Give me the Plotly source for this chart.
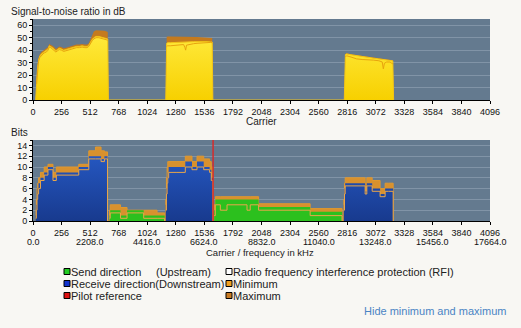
import plotly.graph_objects as go

# ---------------- data ----------------
carrier_ticks = list(range(0, 4097, 256))
freq_tick_carriers = list(range(0, 4097, 512))
freq_tick_labels = ["0.0", "2208.0", "4416.0", "6624.0", "8832.0",
                    "11040.0", "13248.0", "15456.0", "17664.0"]
snr_ticks = [0, 10, 20, 30, 40, 50, 60]
bits_ticks = [0, 2, 4, 6, 8, 10, 12, 14]

# SNR (dB) per carrier, three bands
snr_c1 = [24, 32, 40, 50, 60, 75, 90, 105, 120, 135, 145, 160, 175, 190, 205, 220, 235, 255, 275, 295,
          315, 340, 365, 390, 415, 440, 465, 485, 500, 515, 530, 545, 565, 590, 615, 640, 660, 670, 676]
snr_cur1 = [0, 14, 25, 32, 35, 37, 38, 39, 39.5, 41, 43.5, 43, 42, 41, 39.5, 40.5, 41.5, 41, 40, 40.5,
            41, 42, 42.5, 43, 43, 43.5, 43, 43, 44, 46.5, 48.5, 50, 51, 51, 50.5, 50, 49.5, 49, 0]
snr_max1 = [0, 15, 26.5, 33.5, 36.5, 38.5, 39.5, 40.5, 41, 42.5, 45, 44.5, 43.5, 42.5, 41, 42, 43, 42.5, 41.5, 42,
            42.5, 43.5, 44, 44.5, 44.5, 45, 44.5, 44.5, 45.5, 49, 53, 55, 56, 56, 56, 55.5, 55, 54.5, 0]
snr_min1 = [None, 13, 24, 31, 34, 36, 37, 38, 38.5, 40, 42.5, 42, 41, 40, 38.5, 39.5, 40.5, 40, 39, 39.5,
            40, 41, 41.5, 42, 42, 42.5, 42, 42, 43, 45.5, 47.5, 49, 50, 50, 49.5, 49, 48.5, 48, None]

snr_c2 = [1190, 1198, 1206, 1230, 1260, 1290, 1320, 1350, 1362, 1368, 1376, 1410, 1440, 1470, 1500, 1530,
          1560, 1590, 1606, 1612]
snr_cur2 = [0, 45.5, 46, 46, 46.2, 46.3, 46.5, 46.5, 46.4, 46.4, 46.5, 46.6, 46.8, 46.8, 47, 47,
            46.8, 46.6, 46.5, 0]
snr_max2 = [0, 50.5, 51, 51, 51, 51, 51, 51, 51, 51, 51, 50.8, 50.6, 50.5, 50.3, 50.2, 50, 50, 49.8, 0]
snr_min2 = [None, 43, 43.5, 43.5, 43.8, 44, 44.2, 44.5, 42, 40, 44, 44.8, 45.2, 45.5, 45.8, 46,
            46, 46.2, 46, None]

snr_c3 = [2790, 2800, 2810, 2850, 2900, 2950, 3000, 3050, 3100, 3130, 3140, 3150, 3170, 3200, 3215, 3225, 3232]
snr_cur3 = [0, 36.5, 37, 36.3, 35.5, 34.8, 34.2, 33.6, 33, 32.6, 32.5, 32.4, 32.2, 31.8, 31.6, 31.4, 0]
snr_max3 = [0, 37, 37.5, 36.8, 36, 35.3, 34.7, 34.1, 33.5, 33.1, 33, 32.9, 32.7, 32.3, 32.1, 31.9, 0]
snr_min3 = [None, 34.5, 35.5, 34.5, 33, 32.5, 32.5, 32, 31.5, 30.5, 25, 29.5, 30.5, 30.5, 29.5, 29, None]

# Bits per carrier: downstream (blue) and upstream (green) bands
down_c1 = [24, 30, 36, 42, 50, 67, 100, 134, 179, 209, 410, 500, 560, 610, 640, 668]
down_cur1 = [1, 3, 5, 6, 7, 8, 9, 10, 8, 9, 10, 12, 12, 11.5, 12, 0]
down_max1 = [2, 4, 6, 7, 8, 9, 10, 10.5, 9, 10, 10.5, 13, 13.7, 13, 12.8, 0]
down_min1 = [0.5, 2, 4, 5, 6, 7.5, 8.5, 9.5, 7.5, 8.5, 9.5, 11.5, 11.5, 11, 11.5, 0]

up_c1 = [686, 692, 784, 843, 992, 1112, 1180]
up_cur1 = [1, 2, 1, 2, 1, 1, 0]
up_max1 = [2, 3, 2.5, 2, 2, 1.5, 0]
up_min1 = [0.5, 1.5, 0.5, 1.5, 0.5, 0.5, 0]

down_c2 = [1190, 1196, 1202, 1208, 1216, 1290, 1365, 1425, 1470, 1530, 1583, 1598, 1612]
down_cur2 = [3, 6, 8, 9, 10, 10, 11, 10, 11, 10, 9.5, 8, 0]
down_max2 = [4, 8, 10, 11, 11, 11, 12, 11, 12, 11.5, 11, 10, 0]
down_min2 = [2, 5, 7, 8, 9, 9, 10, 9.5, 10, 9.5, 9, 7.5, 0]

up_c2 = [1624, 1634, 1679, 1739, 1918, 1947, 2022, 2484, 2770]
up_cur2 = [2, 4, 4, 4, 4, 4, 2.6, 1.7, 0]
up_max2 = [3, 4.5, 4.5, 4.5, 4.5, 4.5, 3.2, 2.3, 0]
up_min2 = [1, 3, 2, 3, 2, 3, 2, 1, 0]

down_c3 = [2786, 2792, 2798, 2977, 2992, 3040, 3111, 3156, 3186, 3228]
down_cur3 = [3, 6, 7, 5.5, 7, 6, 5, 6, 6, 0]
down_max3 = [4, 7, 8, 7, 8, 7.5, 6, 7, 7, 0]
down_min3 = [2, 5, 6.5, 5, 6.5, 5.5, 4.5, 5.5, 5.5, 0]

pilot_carrier = 1614

legend_col1 = [("Send direction", "#22cc22"), ("Receive direction(Downstream)", "#1133cc"),
               ("Pilot reference", "#dd1111")]
legend_col2 = [("Radio frequency interference protection (RFI)", "#ffffff"),
               ("Minimum", "#f0a020"), ("Maximum", "#c87a22")]


def join(*segs):
    """Concatenate segments with gaps (for plain lines)."""
    out = []
    for i, s in enumerate(segs):
        if i:
            out.append(None)
        out.extend(s)
    return out


def cat(*segs):
    """Concatenate segments directly (for filled areas, which drop to zero between bands)."""
    out = []
    for s in segs:
        out.extend(s)
    return out


# ---------------- layout helpers ----------------
W, H = 521, 328
ML, MR, MT, MB = 33, 31, 19, 107
PW, PH = W - ML - MR, H - MT - MB


def px(x):
    return (x - ML) / PW


def py(y):
    return (H - MB - y) / PH


FONT = "Liberation Sans, Arial, sans-serif"
PLOT_BG = "#647a8f"
GRID = "#8194a7"

fig = go.Figure()

# ---- top: SNR ----
snr_x = cat(snr_c1, snr_c2, snr_c3)
fig.add_trace(go.Scatter(x=snr_x, y=cat(snr_max1, snr_max2, snr_max3),
                         mode="lines", fill="tozeroy", line=dict(width=0, color="#c47a1e"),
                         fillcolor="#c47a1e", xaxis="x", yaxis="y", hoverinfo="skip"))
fig.add_trace(go.Scatter(x=snr_x, y=cat(snr_cur1, snr_cur2, snr_cur3),
                         mode="lines", fill="tozeroy", line=dict(width=1, color="#f2c418"),
                         fillgradient=dict(type="vertical",
                                           colorscale=[[0, "#f7d000"], [1, "#ffe93a"]]),
                         xaxis="x", yaxis="y", hoverinfo="skip"))
fig.add_trace(go.Scatter(x=join(snr_c1, snr_c2, snr_c3), y=join(snr_min1, snr_min2, snr_min3),
                         mode="lines", line=dict(width=1, color="#e8a30e"),
                         xaxis="x", yaxis="y", hoverinfo="skip"))

# ---- bottom: bits ----
fig.add_trace(go.Scatter(x=cat(down_c1, up_c1, down_c2, up_c2, down_c3),
                         y=cat(down_max1, up_max1, down_max2, up_max2, down_max3),
                         mode="lines", line_shape="hv", fill="tozeroy",
                         line=dict(width=1, color="#e0982e"), fillcolor="#d8912e",
                         xaxis="x2", yaxis="y2", hoverinfo="skip"))
fig.add_trace(go.Scatter(x=cat(down_c1, down_c2, down_c3), y=cat(down_cur1, down_cur2, down_cur3),
                         mode="lines", line_shape="hv", fill="tozeroy", line=dict(width=0, color="#1c46a8"),
                         fillgradient=dict(type="vertical",
                                           colorscale=[[0, "#183a8e"], [1, "#2557c0"]]),
                         xaxis="x2", yaxis="y2", hoverinfo="skip"))
fig.add_trace(go.Scatter(x=cat(up_c1, up_c2), y=cat(up_cur1, up_cur2),
                         mode="lines", line_shape="hv", fill="tozeroy", line=dict(width=0, color="#2cc01e"),
                         fillcolor="#2cc01e", xaxis="x2", yaxis="y2", hoverinfo="skip"))
fig.add_trace(go.Scatter(x=join(down_c1, up_c1, down_c2, up_c2, down_c3),
                         y=join(down_min1, up_min1, down_min2, up_min2, down_min3),
                         mode="lines", line_shape="hv", line=dict(width=1, color="#e9a64a"),
                         xaxis="x2", yaxis="y2", hoverinfo="skip"))
fig.add_trace(go.Scatter(x=[pilot_carrier, pilot_carrier], y=[0, 15], mode="lines",
                         line=dict(width=1.5, color="#d42c2c"), xaxis="x2", yaxis="y2", hoverinfo="skip"))

axis_common = dict(showline=True, linecolor="#000000", linewidth=1, ticks="outside",
                   tickcolor="#000000", ticklen=3, tickfont=dict(family=FONT, size=9, color="#111111"),
                   zeroline=False, fixedrange=True)

fig.update_layout(
    width=W, height=H, margin=dict(l=ML, r=MR, t=MT, b=MB),
    paper_bgcolor="#f8f7f3", plot_bgcolor=PLOT_BG, showlegend=False,
    font=dict(family=FONT, size=10, color="#222222"),
    xaxis=dict(domain=[0, 1], anchor="y", range=[0, 4096], tickvals=carrier_ticks,
               ticktext=[str(c) for c in carrier_ticks], showgrid=False, **axis_common),
    yaxis=dict(domain=[py(100), py(19)], anchor="x", range=[0, 65], tickvals=snr_ticks,
               showgrid=True, gridcolor=GRID, gridwidth=1,
               minor=dict(dtick=5, ticklen=2, tickcolor="#000000", ticks="outside", showgrid=False),
               **axis_common),
    xaxis2=dict(domain=[0, 1], anchor="y2", range=[0, 4096], tickvals=carrier_ticks,
                ticktext=[str(c) for c in carrier_ticks], showgrid=False, **axis_common),
    yaxis2=dict(domain=[0, py(140)], anchor="x2", range=[0, 15], tickvals=bits_ticks,
                showgrid=True, gridcolor=GRID, gridwidth=1,
                minor=dict(dtick=1, ticklen=2, tickcolor="#000000", ticks="outside", showgrid=False),
                **axis_common),
)

ann = []


def text(x, y, s, size=10, anchor="left", color="#222222"):
    ann.append(dict(x=px(x), y=py(y), xref="paper", yref="paper", text=s, showarrow=False,
                    xanchor=anchor, yanchor="middle", borderpad=0,
                    font=dict(family=FONT, size=size, color=color)))


# frequency row of the bottom axis, placed at the carrier positions
for c, lab in zip(freq_tick_carriers, freq_tick_labels):
    ann.append(dict(x=c, y=py(241.5), xref="x2", yref="paper", text=lab, showarrow=False,
                    xanchor="center", yanchor="middle", borderpad=0,
                    font=dict(family=FONT, size=9, color="#111111")))

text(10, 12, "Signal-to-noise ratio in dB", 10)
text(261, 121, "Carrier", 10, "center")
text(10, 132, "Bits", 10)
text(260, 252.5, "Carrier / frequency in kHz", 9.5, "center")
text(507, 311, "Hide minimum and maximum", 11, "right", "#4a84c4")

shapes = []
rows = [271.5, 283.5, 295.5]
for (label, col), yy in zip(legend_col1, rows):
    shapes.append(dict(type="rect", xref="paper", yref="paper", x0=px(64), x1=px(70),
                       y0=py(yy + 3), y1=py(yy - 3), fillcolor=col, line=dict(color="#000000", width=1)))
    text(69.5, yy, label, 11)
text(155, rows[0], "(Upstream)", 11)
for (label, col), yy in zip(legend_col2, rows):
    shapes.append(dict(type="rect", xref="paper", yref="paper", x0=px(226), x1=px(232),
                       y0=py(yy + 3), y1=py(yy - 3), fillcolor=col, line=dict(color="#000000", width=1)))
    text(231.5, yy, label, 11)

fig.update_layout(annotations=ann, shapes=shapes)
fig.write_html("out.html")
